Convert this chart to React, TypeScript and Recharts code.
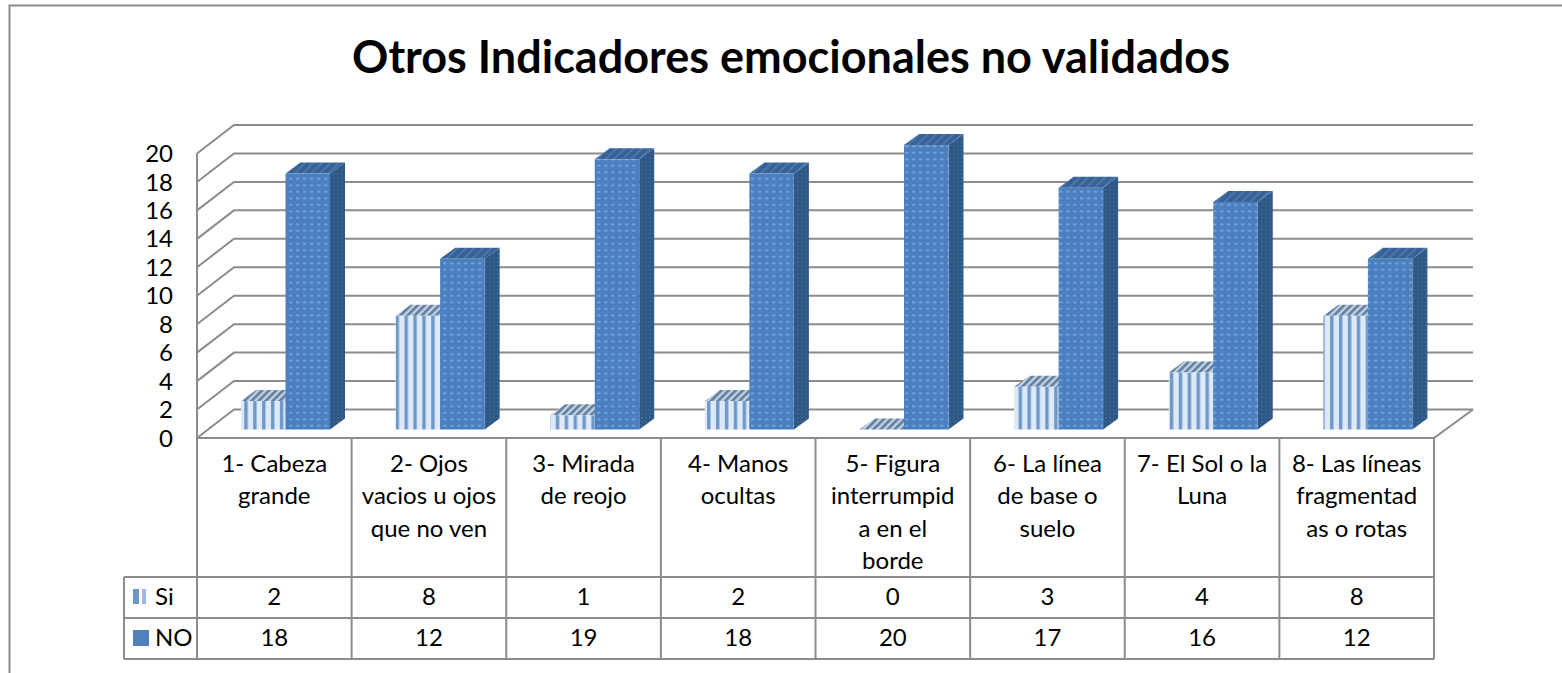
import React from 'react';
import { ComposedChart, Bar, Line, XAxis, YAxis, CartesianGrid } from 'recharts';

const CATEGORIES = ['1', '2', '3', '4', '5', '6', '7', '8'];
const CATEGORY_LINES = [
  ['1- Cabeza', 'grande'],
  ['2- Ojos', 'vacios u ojos', 'que no ven'],
  ['3- Mirada', 'de reojo'],
  ['4- Manos', 'ocultas'],
  ['5- Figura', 'interrumpid', 'a en el', 'borde'],
  ['6- La línea', 'de base o', 'suelo'],
  ['7- El Sol o la', 'Luna'],
  ['8- Las líneas', 'fragmentad', 'as o rotas'],
];
const SI_VALUES = [2, 8, 1, 2, 0, 3, 4, 8];
const NO_VALUES = [18, 12, 19, 18, 20, 17, 16, 12];
const Y_TICKS = [0, 2, 4, 6, 8, 10, 12, 14, 16, 18, 20];

const tableData = CATEGORIES.map((name, i) => ({ name, si: SI_VALUES[i], no: NO_VALUES[i] }));

const FONT = 'Lato, sans-serif';
const GRID = '#8c8c8c';
const TEXT = '#000000';
const FONT_SIZE = 24;

// plot geometry
const PLOT_LEFT = 197;
const PLOT_RIGHT = 1473;
const PLOT_TOP = 125;
const FLOOR_Y = 438;
const FRONT_RIGHT = 1434;
const WALL_DX = 37;
const WALL_DY = 28.5;
const BAR_DX = 15;
const BAR_DY = 11;
const ROW_1 = 577;
const ROW_2 = 618;
const ROW_3 = 659;
const LEGEND_LEFT = 124;
const BAND = (FRONT_RIGHT - PLOT_LEFT) / 8;
const UNIT = 14.22;
const Y_AXIS_WIDTH = 40;

// wall grid line: back wall part plus the diagonal on the left side wall
const WallLine = (props: any) => {
  const y = props.y1;
  // the grid also hands over the plot's bottom edge, which is the front of the floor
  if (y > FLOOR_Y - 1) return <g key="floor" />;
  const backX = PLOT_LEFT + WALL_DX;
  return (
    <path
      key={y}
      d={`M${PLOT_LEFT},${y + WALL_DY} L${backX},${y} L${PLOT_RIGHT},${y}`}
      fill="none"
      stroke={GRID}
      strokeWidth={2}
    />
  );
};

const Bar3D = (front: string, top: string, side: string) => (props: any) => {
  const { x, y, width, height } = props;
  return (
    <g>
      <path
        d={`M${x + width},${y} L${x + width + BAR_DX},${y - BAR_DY} L${x + width + BAR_DX},${y + height - BAR_DY} L${x + width},${y + height} Z`}
        fill={side}
      />
      <path d={`M${x},${y} L${x + BAR_DX},${y - BAR_DY} L${x + width + BAR_DX},${y - BAR_DY} L${x + width},${y} Z`} fill={top} />
      <rect x={x} y={y} width={width} height={height} fill={front} />
    </g>
  );
};

const SiBar = Bar3D('url(#siFront)', 'url(#siTop)', 'url(#siTop)');
const NoBar = Bar3D('url(#noFront)', 'url(#noTop)', 'url(#noSide)');

const TableColumn = (props: any) => {
  const { index } = props;
  const left = PLOT_LEFT + BAND * index;
  const cx = left + BAND / 2;
  return (
    <g fontFamily={FONT} fontSize={FONT_SIZE} fill={TEXT} textAnchor="middle">
      <path d={`M${left + BAND},${FLOOR_Y} V${ROW_3}`} stroke={GRID} strokeWidth={2} fill="none" />
      {CATEGORY_LINES[index].map((line, i) => (
        <text key={line} x={cx} y={472 + i * 32.3}>
          {line}
        </text>
      ))}
      <text x={cx} y={605}>{SI_VALUES[index]}</text>
      <text x={cx} y={646}>{NO_VALUES[index]}</text>
    </g>
  );
};

const App = () => (
  <div style={{ position: 'absolute', left: 0, top: 0, width: 1562, height: 673, background: '#fff' }}>
    <ComposedChart
      width={1562}
      height={673}
      data={tableData}
      barSize={44.5}
      barGap={0}
      margin={{ top: PLOT_TOP, right: 1562 - PLOT_RIGHT, bottom: 0, left: PLOT_LEFT - Y_AXIS_WIDTH }}
    >
      <defs>
        <pattern id="siFront" width={8.9} height={8} patternUnits="userSpaceOnUse">
          <rect width={8.9} height={8} fill="#dce9f7" />
          <rect x={4} width={3.4} height={8} fill="#6f97c9" />
        </pattern>
        <pattern id="siTop" width={5} height={5} patternUnits="userSpaceOnUse" patternTransform="rotate(45)">
          <rect width={5} height={5} fill="#c5d2e2" />
          <rect width={2.6} height={5} fill="#5f7d9f" />
        </pattern>
        <pattern id="noFront" width={7} height={6.5} patternUnits="userSpaceOnUse">
          <rect width={7} height={6.5} fill="#4a7fc0" />
          <rect x={2} y={2.5} width={3.4} height={1.6} fill="#7ba9dc" />
        </pattern>
        <pattern id="noTop" width={6} height={6} patternUnits="userSpaceOnUse" patternTransform="rotate(45)">
          <rect width={6} height={6} fill="#386295" />
          <rect width={1.5} height={6} fill="#4e7cb1" />
        </pattern>
        <pattern id="noSide" width={4} height={4} patternUnits="userSpaceOnUse">
          <rect width={4} height={4} fill="#2f5785" />
          <rect x={1} y={1} width={1.5} height={1.5} fill="#41709f" />
        </pattern>
      </defs>

      {/* outer chart frame */}
      <path d="M9.5,673 V5.5 H1562" fill="none" stroke={GRID} strokeWidth={2} />
      <text x={791} y={73} textAnchor="middle" fontFamily={FONT} fontWeight={700} fontSize={45} fill={TEXT}>
        Otros Indicadores emocionales no validados
      </text>

      {/* three value axes sharing one plot area: front plane, back wall, bar plane */}
      <YAxis
        yAxisId="front"
        domain={[0, (FLOOR_Y - PLOT_TOP) / UNIT]}
        ticks={Y_TICKS}
        interval={0}
        axisLine={false}
        tickLine={false}
        tickMargin={18}
        width={Y_AXIS_WIDTH}
        tick={{ fontFamily: FONT, fontSize: FONT_SIZE, fill: TEXT }}
      />
      <YAxis yAxisId="wall" hide width={0} domain={[-WALL_DY / UNIT, 20]} ticks={Y_TICKS} />
      <YAxis yAxisId="bars" hide width={0} domain={[-8.5 / UNIT, (429.5 - PLOT_TOP) / UNIT]} />
      <XAxis
        dataKey="name"
        interval={0}
        padding={{ left: 11, right: PLOT_RIGHT - FRONT_RIGHT - 11 }}
        axisLine={false}
        tickLine={false}
        height={673 - FLOOR_Y}
        tick={TableColumn}
      />

      <CartesianGrid yAxisId="wall" vertical={false} horizontal={WallLine} />

      {/* no-draw lines so the front and wall axes are attached to the data */}
      <Line yAxisId="front" dataKey="no" stroke="none" dot={false} activeDot={false} legendType="none" isAnimationActive={false} />
      <Line yAxisId="wall" dataKey="no" stroke="none" dot={false} activeDot={false} legendType="none" isAnimationActive={false} />

      {/* floor edges, side wall edge, table frame */}
      <path
        d={`M${PLOT_LEFT},${PLOT_TOP + WALL_DY} V${ROW_3} M${PLOT_LEFT},${FLOOR_Y} H${FRONT_RIGHT} L${PLOT_RIGHT},${FLOOR_Y - WALL_DY} M${LEGEND_LEFT},${ROW_1} H${FRONT_RIGHT} M${LEGEND_LEFT},${ROW_2} H${FRONT_RIGHT} M${LEGEND_LEFT},${ROW_3} H${FRONT_RIGHT} M${LEGEND_LEFT},${ROW_1} V${ROW_3}`}
        fill="none"
        stroke={GRID}
        strokeWidth={2}
      />

      <Bar yAxisId="bars" dataKey="si" shape={SiBar} isAnimationActive={false} />
      <Bar yAxisId="bars" dataKey="no" shape={NoBar} isAnimationActive={false} />

      {/* legend keys live in the table's first column */}
      <rect x={133} y={589} width={6} height={15} fill="#6f97c9" />
      <rect x={142} y={589} width={4} height={15} fill="#9dbbe0" />
      <rect x={133} y={630} width={16} height={16} fill="#4f81bd" />
      <text x={155} y={605} fontFamily={FONT} fontSize={FONT_SIZE} fill={TEXT}>Si</text>
      <text x={155} y={646} fontFamily={FONT} fontSize={FONT_SIZE} fill={TEXT}>NO</text>
    </ComposedChart>
  </div>
);

export default App;
